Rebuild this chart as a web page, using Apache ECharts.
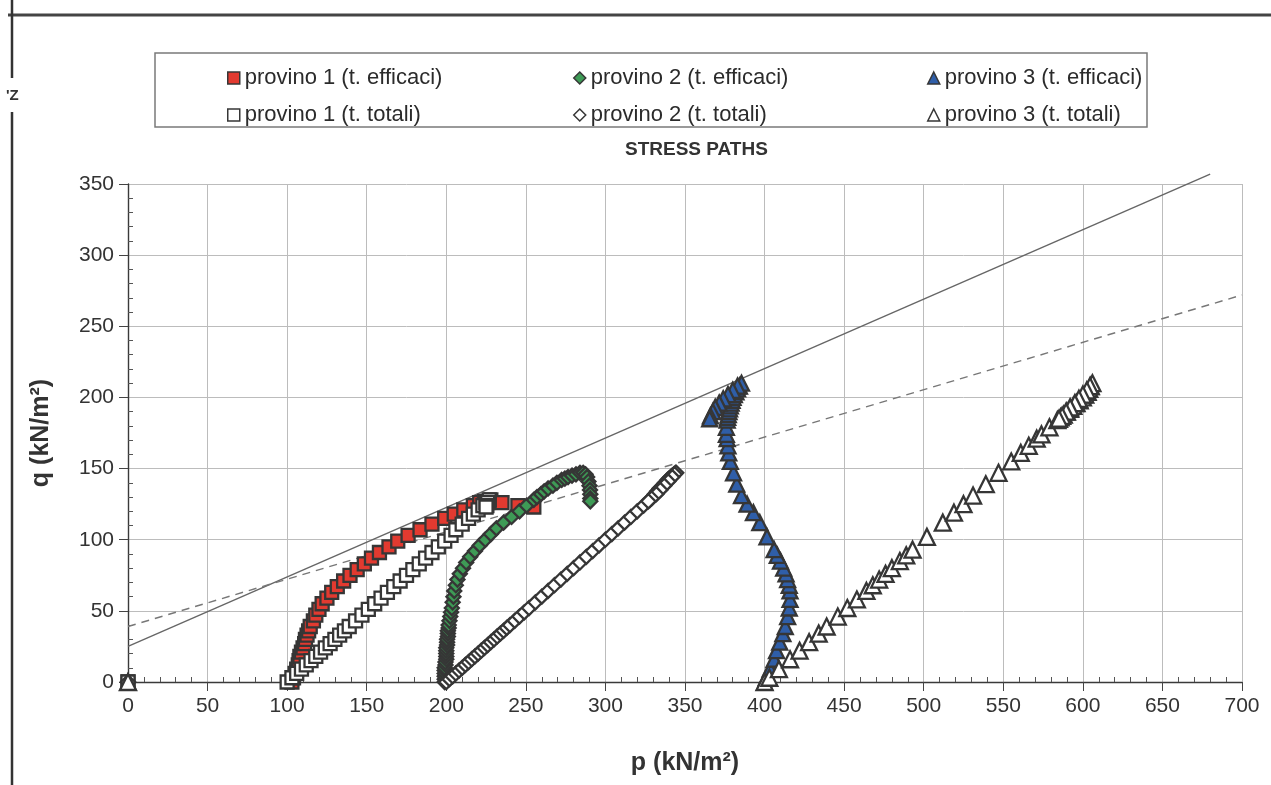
<!DOCTYPE html>
<html lang="it">
<head>
    <meta charset="UTF-8">
    <title>stress paths</title>
    <script src="https://cdn.jsdelivr.net/npm/echarts@6.0.0/dist/echarts.min.js"></script>
    <style>
        html, body {
            margin: 0;
            padding: 0;
            background: #fff;
        }

        #main {
            width: 1271px;
            height: 785px;
        }
    </style>
</head>
<body>
<div id="main"></div>
<script>
    // assi: min, max, passo
    const pTicks = [0, 700, 50];
    const qTicks = [0, 350, 50];

    // provino 1 : q, p efficace, p totale (il primo punto e' l'origine)
    const p1Q = [0, 0, 3, 6, 9, 12, 15, 18, 21, 24, 27, 30, 33, 36, 39, 43, 47, 51, 55, 59, 63,
        67, 71, 75, 79, 83, 87, 91, 95, 99, 103, 107, 111, 115, 118, 121, 124, 126, 127, 128, 126,
        124, 123];
    const p1PEff = [0, 103, 104, 105, 106, 107, 107.5, 108, 109, 110, 111, 111.5, 112.5, 113.5, 114.5, 116.5, 118, 120, 122, 125, 128,
        131.5, 135.5, 139.5, 144, 148.5, 153, 158, 164, 169.5, 176, 183.5, 191, 199, 205, 211, 217, 221, 224, 228, 235,
        245, 255];
    const p1PTot = [0, 100, 103, 106, 109, 112, 115, 118, 121, 124, 127, 130, 133, 136, 139, 143, 147, 151, 155, 159, 163,
        167, 171, 175, 179, 183, 187, 191, 195, 199, 203, 206, 210, 214, 217, 220, 223, 225, 226, 227, 226,
        225.5, 225];

    // provino 2
    const p2Q = [0, 0, 2, 4, 6, 8, 10, 12, 14, 16, 18, 20, 22, 24, 26, 28, 30, 32, 34, 36, 38, 40,
        43, 46, 49, 52,
        56, 60, 64, 68, 72, 76, 80, 84, 88, 92, 96, 100, 104, 108, 112, 116, 120, 124,
        128, 130, 132, 134, 136, 138, 140, 142, 143, 144, 145, 146, 147, 147, 146, 144, 141, 138, 135, 132, 129, 127];
    const p2PEff = [0, 199, 199, 199, 199, 199, 199, 199.5, 199.5, 200, 200, 200, 200, 200, 200.5, 200.5, 200.5, 201, 201, 201, 201.5, 201.5,
        202, 202.5, 203, 203.5,
        204, 204.5, 205, 206, 207, 208.5, 210.5, 212.5, 215, 218, 221, 224.5, 228, 231.5, 236, 241, 246, 250.5,
        255, 257, 259.5, 261.5, 264, 267, 269.5, 272.5, 274.5, 276.5, 279, 281.5, 284, 286, 287.5, 288.5, 289.3, 290, 290.3, 290.5, 290.5, 290.5];
    const p2PTot = [0, 200, 202, 204, 206, 208, 210, 212, 214, 216, 218, 220, 222, 224, 226, 228, 230, 232, 234, 236, 238, 240,
        243, 246, 249, 252,
        256, 260, 264, 268, 272, 276, 280, 284, 288, 292, 296, 300, 304, 308, 312, 316, 320, 324,
        328, 329.5, 331, 332.5, 334, 336, 337.5, 339, 340, 341, 342, 343, 344, 344.5, 343.5, 342, 339.5, 337, 334.5, 332, 329, 327];

    // provino 3
    const p3Q = [0, 0, 3, 9, 16, 22, 28, 34, 39, 46, 52,
        58, 64, 68, 72, 76, 80, 85, 89, 93, 102,
        112, 119, 125, 131, 139, 147, 155, 161, 166, 171,
        174, 179, 184,
        186, 188, 190, 192, 194, 196, 198, 200, 202, 204,
        206, 208, 210,
        208, 205, 202, 199, 196, 193, 190, 187, 185];
    const p3PEff = [0, 400, 401, 403.5, 406, 407.5, 409.5, 411.5, 413, 414.5, 415.5,
        416, 416, 415.5, 414.5, 413.5, 412, 410, 408, 406, 401.5,
        397, 393, 389, 385.5, 382.5, 380.5, 378.5, 377.5, 377, 376.5,
        376, 376, 376.5,
        376.8, 377.2, 377.6, 378, 378.5, 379, 379.6, 380.2, 381, 382,
        383, 384.2, 385.5,
        383, 380, 377, 374, 371.5, 369, 367.5, 366, 365.5];
    const p3PTot = [0, 400, 403, 409, 416, 422, 428, 434, 439, 446, 452,
        458, 464, 468, 472, 476, 480, 485, 489, 493, 502,
        512, 519, 525, 531, 539, 547, 555, 561, 566, 571,
        574, 579, 584,
        586, 588, 590, 592, 594, 596, 598, 600, 601.5, 603,
        604, 605, 606,
        604.5, 602.5, 600, 597.5, 595, 592, 589.5, 587, 585];

    // rette di inviluppo (p, q agli estremi)
    const envSolid = [[0, 25], [680, 357]];
    const envDashed = [[0, 39], [700, 272]];

    const names = ['provino 1 (t. efficaci)', 'provino 2 (t. efficaci)', 'provino 3 (t. efficaci)',
        'provino 1 (t. totali)', 'provino 2 (t. totali)', 'provino 3 (t. totali)'];

    const FONT = "'Liberation Sans', Arial, sans-serif";
    const BORDER = '#363636';

    function toPoints(ps, qs) {
        return ps.map((p, i) => [p, qs[i]]);
    }

    function scatter(name, data, symbol, size, color) {
        return {
            name: name,
            type: 'scatter',
            data: data,
            symbol: symbol,
            symbolSize: size,
            itemStyle: {color: color, borderColor: BORDER, borderWidth: 2.3, opacity: 1},
            z: 3
        };
    }

    function envLine(data, type) {
        return {
            type: 'line',
            data: data,
            symbol: 'none',
            silent: true,
            clip: false,
            z: 1,
            lineStyle: {color: type === 'solid' ? '#666' : '#777', width: 1.4, type: type === 'solid' ? 'solid' : [8, 6]}
        };
    }

    function legendAt(name, left, top) {
        return {
            data: [name],
            left: left,
            top: top,
            itemWidth: 12,
            itemHeight: 12,
            itemGap: 0,
            selectedMode: false,
            itemStyle: {borderWidth: 1.5},
            textStyle: {fontSize: 22, color: '#2b2b2b', fontFamily: FONT, lineHeight: 22}
        };
    }

    // asse principale con etichette
    function mainAxis(range, name, gap, isY) {
        return {
            type: 'value',
            min: range[0],
            max: range[1],
            interval: range[2],
            name: name,
            nameLocation: 'middle',
            nameGap: gap,
            nameRotate: isY ? 90 : 0,
            nameTextStyle: {fontSize: 25, fontWeight: 'bold', color: '#333', fontFamily: FONT},
            axisLine: {show: true, onZero: false, lineStyle: {color: '#3a3a3a', width: 1.4}},
            axisTick: {show: true, length: 9, lineStyle: {color: '#444', width: 1}},
            axisLabel: {fontSize: 21, color: '#333', margin: 14, fontFamily: FONT},
            splitLine: {show: true, lineStyle: {color: '#bcbcbc', width: 1}}
        };
    }

    // asse gemello: solo tick minori verso l'interno
    function minorAxis(range, position) {
        return {
            type: 'value',
            position: position,
            min: range[0],
            max: range[1],
            interval: range[2],
            axisLine: {show: false},
            axisTick: {show: false, inside: true},
            minorTick: {show: true, splitNumber: 5, length: 5, lineStyle: {color: '#555', width: 1}},
            axisLabel: {show: false},
            splitLine: {show: false}
        };
    }

    let option = {
        animation: false,
        backgroundColor: '#fff',
        textStyle: {fontFamily: FONT},
        title: {
            text: 'STRESS PATHS',
            left: 620,
            top: 135,
            textStyle: {fontSize: 19, fontWeight: 'bold', color: '#333', fontFamily: FONT}
        },
        legend: [
            legendAt(names[0], 222, 62),
            legendAt(names[1], 568, 62),
            legendAt(names[2], 922, 62),
            legendAt(names[3], 222, 99),
            legendAt(names[4], 568, 99),
            legendAt(names[5], 922, 99)
        ],
        grid: {left: 128, top: 184, width: 1114, height: 498, outerBoundsMode: 'none'},
        xAxis: [
            mainAxis(pTicks, 'p (kN/m²)', 69, false),
            minorAxis(pTicks, 'bottom')
        ],
        yAxis: [
            mainAxis(qTicks, 'q (kN/m²)', 74, true),
            minorAxis(qTicks, 'left')
        ],
        graphic: [
            {type: 'rect', shape: {x: 155, y: 53, width: 992, height: 74}, style: {fill: 'none', stroke: '#7a7a7a', lineWidth: 1.5}},
            {type: 'line', shape: {x1: 8, y1: 15, x2: 1271, y2: 15}, style: {stroke: '#444', lineWidth: 3}},
            {type: 'line', shape: {x1: 12, y1: 0, x2: 12, y2: 78}, style: {stroke: '#333', lineWidth: 2.5}},
            {type: 'line', shape: {x1: 12, y1: 112, x2: 12, y2: 785}, style: {stroke: '#333', lineWidth: 2.5}},
            {type: 'text', x: 6, y: 88, style: {text: "'Z", fill: '#333', font: 'bold 15px ' + FONT}}
        ],
        series: [
            scatter(names[0], toPoints(p1PEff, p1Q), 'rect', 13, '#e23a30'),
            scatter(names[1], toPoints(p2PEff, p2Q), 'diamond', 14, '#3e9b56'),
            scatter(names[2], toPoints(p3PEff, p3Q), 'triangle', 15, '#2f5ea8'),
            scatter(names[3], toPoints(p1PTot, p1Q), 'rect', 13, '#ffffff'),
            scatter(names[4], toPoints(p2PTot, p2Q), 'diamond', 14, '#ffffff'),
            scatter(names[5], toPoints(p3PTot, p3Q), 'triangle', 16, '#ffffff'),
            envLine(envSolid, 'solid'),
            envLine(envDashed, 'dashed')
        ]
    };

    let myChart = echarts.init(document.getElementById('main'), null, {renderer: 'canvas'});
    myChart.setOption(option);
</script>
</body>
</html>
